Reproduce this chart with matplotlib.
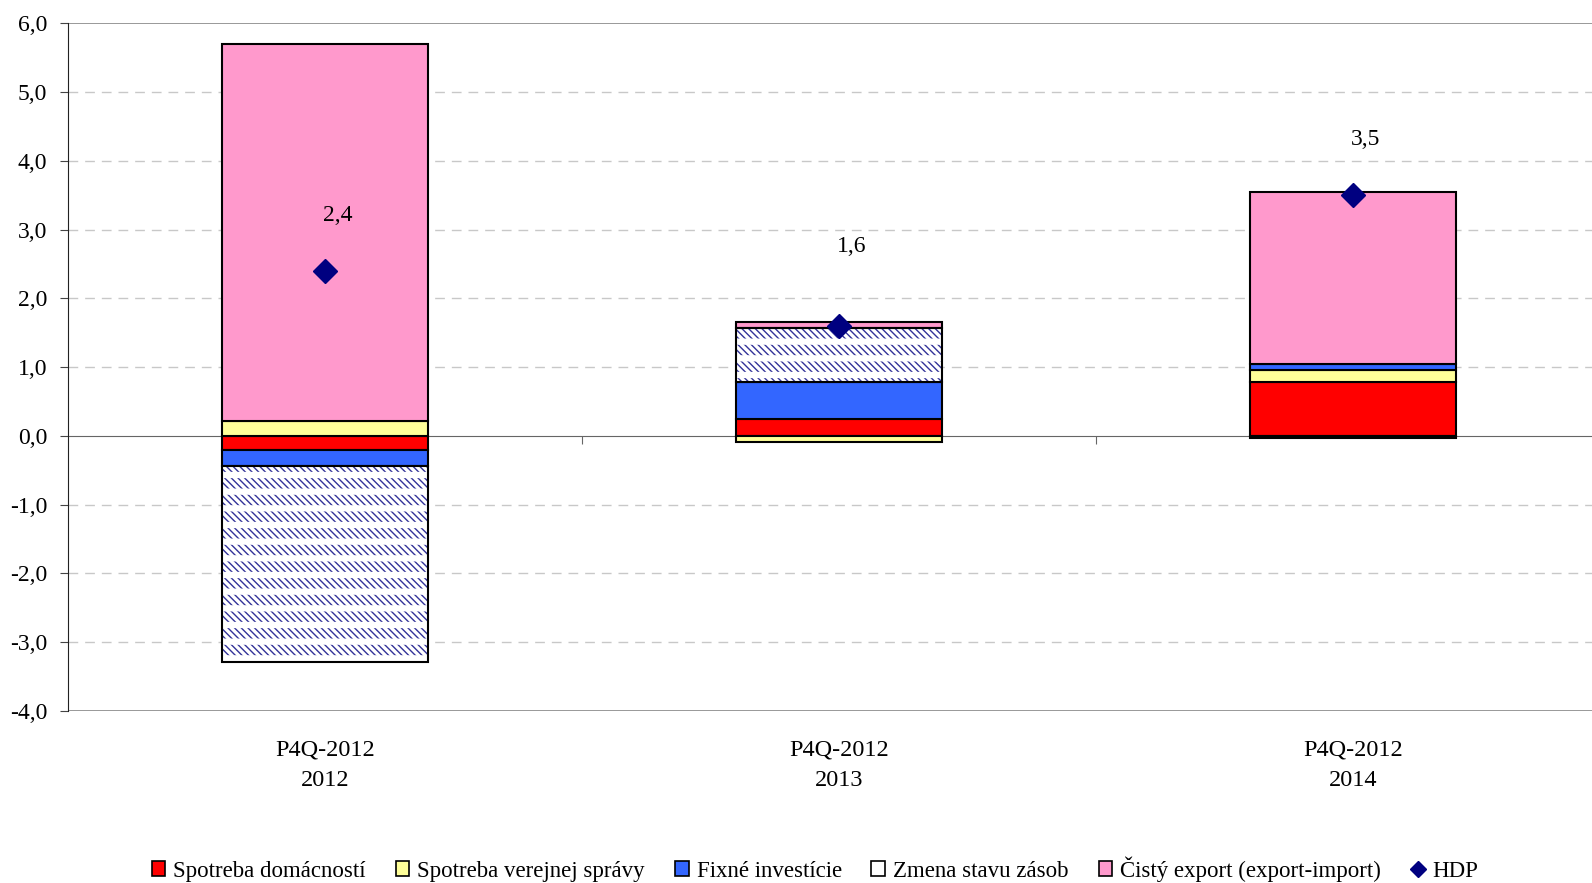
import numpy as np
import matplotlib.pyplot as plt
from matplotlib.patches import Patch
from matplotlib.lines import Line2D
from matplotlib.transforms import blended_transform_factory

plt.rcParams['font.family'] = ['Liberation Serif', 'DejaVu Serif']

# prispevky k rastu HDP (p.b.)
periods = ['P4Q-2012\n2012', 'P4Q-2012\n2013', 'P4Q-2012\n2014']
domacnosti = [-0.21, 0.24, 0.78]
verejna_sprava = [0.21, -0.09, 0.17]
investicie = [-0.23, 0.54, 0.10]
zasoby = [-2.85, 0.79, -0.03]
cisty_export = [5.49, 0.09, 2.50]
hdp = [2.4, 1.6, 3.5]
hdp_label_offset = [40, 57, 40]

names = ['Spotreba domácností', 'Spotreba verejnej správy', 'Fixné investície',
         'Zmena stavu zásob', 'Čistý export (export-import)']
colors = ['#ff0000', '#ffff99', '#3366ff', '#ffffff', '#ff99cc']
series = [domacnosti, verejna_sprava, investicie, zasoby, cisty_export]

fig = plt.figure(figsize=(15.92, 8.83), dpi=100)
ax = fig.add_axes([68/1592, 1-710.7/883, 1-68/1592, (710.7-23.4)/883])

x = np.arange(len(periods))
w = 0.40
pos = np.zeros(len(x))
neg = np.zeros(len(x))
for vals, col, name in zip(series, colors, names):
    vals = np.array(vals)
    bottom = np.where(vals >= 0, pos, neg)
    if name == 'Zmena stavu zásob':
        # sikme srafovanie prerusene bielymi pruhmi
        ax.bar(x, vals, w, bottom=bottom, color='white', edgecolor='#333399',
               hatch='\\\\\\\\\\', linewidth=0, zorder=3)
        with plt.rc_context({'hatch.linewidth': 4.5}):
            ax.bar(x, vals, w, bottom=bottom, color='none', edgecolor='white',
                   hatch='-', linewidth=0, zorder=3)
        ax.bar(x, vals, w, bottom=bottom, color='none', edgecolor='black',
               linewidth=1.5, zorder=4)
    else:
        ax.bar(x, vals, w, bottom=bottom, color=col, edgecolor='black',
               linewidth=1.5, zorder=3)
    pos = pos + np.where(vals >= 0, vals, 0)
    neg = neg + np.where(vals < 0, vals, 0)

ax.plot(x, hdp, 'D', color='#000080', markersize=12, zorder=5, linestyle='none')
for xi, v, off in zip(x, hdp, hdp_label_offset):
    ax.annotate(('%.1f' % v).replace('.', ','), (xi, v), xytext=(9, off),
                textcoords='offset points', ha='center', va='center', fontsize=17)

ax.set_ylim(-4, 6)
ax.set_xlim(-0.5, -0.5 + (1592 - 68) / 514)
ax.set_yticks(np.arange(-4, 7, 1))
ax.set_yticklabels([('%.1f' % t).replace('.', ',') for t in np.arange(-4, 7, 1)], fontsize=17)
for t in range(-3, 6):
    if t != 0:
        ax.axhline(t, color='#c8c8c8', lw=1, dashes=(7, 5), zorder=1)
ax.axhline(6, color='#888888', lw=1.2, zorder=1)
ax.axhline(-4, color='#888888', lw=1.2, zorder=1)

ax.spines['top'].set_visible(False)
ax.spines['right'].set_visible(False)
ax.spines['bottom'].set_position(('data', 0))
ax.spines['bottom'].set_color('#666666')
ax.spines['bottom'].set_zorder(2)
ax.spines['left'].set_color('#222222')
ax.set_xticks([0.5, 1.5])
ax.set_xticklabels([])
ax.tick_params(axis='x', length=6, color='#666666')
ax.tick_params(axis='y', length=6, color='#444444', pad=9)

tr = blended_transform_factory(ax.transData, fig.transFigure)
for xi, lab in zip(x, periods):
    ax.text(xi, 1 - 765/883, lab, transform=tr, ha='center', va='center',
            fontsize=17.5, linespacing=1.6)

handles = [Patch(facecolor=c, edgecolor='black', linewidth=1.2) for c in colors]
handles.append(Line2D([], [], marker='D', color='#000080', linestyle='none', markersize=8))
fig.legend(handles, names + ['HDP'], loc='center', bbox_to_anchor=(0.512, 1 - 869/883),
           ncol=6, frameon=False, fontsize=16.5, handlelength=0.6, handleheight=0.6,
           handletextpad=0.35, columnspacing=1.3)

fig.savefig('out.png', dpi=100)
